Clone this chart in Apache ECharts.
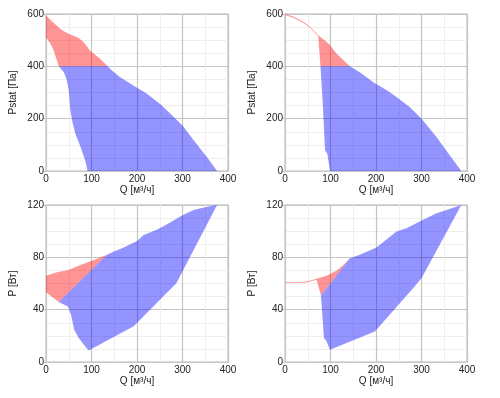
<!DOCTYPE html>
<html>
<head>
<meta charset="utf-8">
<script src="https://cdn.jsdelivr.net/npm/echarts@6/dist/echarts.min.js"></script>
<style>
  html, body { margin: 0; padding: 0; background: #fff; }
  #chart { width: 500px; height: 398px; }
</style>
</head>
<body>
<div id="chart"></div>
<script>
// Q, м³/ч -> Pstat, Па / P, Вт ; red = above 400 Pa, blue = working range
var Q_MAX = 400;
var PSTAT_MAX = 600;
var POWER_MAX = 120;

var pstatRedA = [[0, 593], [31.5, 543], [46, 527], [72, 508], [83, 492], [97, 460], [119, 429], [135.5, 400],
  [28, 400], [17, 460], [9.5, 488], [0, 510]];
var pstatBlueA = [[28, 400], [135.5, 400], [145, 384], [163, 358], [200, 318], [222, 295], [255, 250], [266, 231],
  [300, 174], [325, 117], [354, 53], [376, 0], [91.5, 0], [86, 41], [76, 92], [64.5, 142], [59, 180],
  [53.5, 231], [50, 308], [46, 346], [39, 378]];

var pstatRedB = [[0, 600], [18, 590], [40, 571], [55, 551], [73, 519], [91, 494], [99, 481], [113, 449], [128, 424],
  [142.5, 400], [78, 400], [73, 515], [55, 547], [40, 567], [18, 586], [0, 596]];
var pstatBlueB = [[78, 400], [142.5, 400], [164.5, 377], [194, 339], [223, 310], [245, 283], [274, 245], [300, 200],
  [333, 130], [362, 60], [387.5, 0], [99, 0], [93, 66], [88, 79], [82.6, 271]];

var powerRedA = [[0, 66], [24, 68.6], [50, 70.4], [75.5, 74.2], [105, 78], [134, 81.9], [28, 45.8], [0, 53.4]];
var powerBlueA = [[28, 45.8], [134, 81.9], [149, 84.4], [171, 87.5], [200, 92.5], [214.5, 97.1], [243.5, 101],
  [266, 105.2], [299, 112], [324, 116.2], [354, 118.7], [376, 120], [286.5, 60.2], [192.7, 27.4], [93.8, 8.8],
  [86, 12], [71.8, 18.3], [62, 24.7], [55, 36.1], [48, 42.4]];

var powerRedB = [[0, 61], [25.6, 61], [47.5, 61.5], [69.5, 63.6], [91.4, 66], [113, 69.7], [128, 74.2], [142.6, 79.3],
  [79, 50.8], [69.5, 62.8], [47.5, 60.7], [25.6, 60.3], [0, 60.3]];
var powerBlueB = [[79, 50.8], [142.6, 79.3], [164.5, 81.9], [201, 87.5], [245, 99.7], [267, 102.2], [296, 107.3],
  [333, 113.6], [355, 116.2], [387.5, 120], [300, 64], [281.5, 56.4], [197.4, 23.4], [98.7, 9.4], [91.4, 15.8],
  [85.6, 18.3]];

var X_NAME = 'Q [м³/ч]';
var Y_NAMES = ['Pstat [Па]', 'Pstat [Па]', 'P [Вт]', 'P [Вт]'];

var FONT = '"Liberation Sans", Arial, sans-serif';
var TEXT = '#222';
var RED = 'rgba(255,0,0,0.42)';
var BLUE = 'rgba(0,0,255,0.42)';

function xAxis(gi) {
  return {
    gridIndex: gi, type: 'value', min: 0, max: Q_MAX, interval: 100,
    name: X_NAME, nameLocation: 'middle', nameGap: 10,
    nameTextStyle: { color: TEXT, fontSize: 10, fontFamily: FONT },
    axisLine: { show: true, lineStyle: { color: '#c8c8c8' } },
    axisTick: { show: false },
    axisLabel: { color: TEXT, fontSize: 10, fontFamily: FONT, margin: 3 },
    splitLine: { show: true, lineStyle: { color: '#c4c4c4', width: 1.2 } },
    minorTick: { show: false, splitNumber: 2 },
    minorSplitLine: { show: true, lineStyle: { color: '#eeeeee' } }
  };
}

function yAxis(gi, max, step) {
  return {
    gridIndex: gi, type: 'value', min: 0, max: max, interval: step,
    name: Y_NAMES[gi], nameLocation: 'middle', nameGap: 28, nameRotate: 90,
    nameTextStyle: { color: TEXT, fontSize: 10, fontFamily: FONT },
    axisLine: { show: true, lineStyle: { color: '#c8c8c8' } },
    axisTick: { show: true, length: 3, lineStyle: { color: '#c8c8c8' } },
    axisLabel: { color: TEXT, fontSize: 10, fontFamily: FONT, margin: 2 },
    splitLine: { show: true, lineStyle: { color: '#c4c4c4', width: 1.2 } },
    minorTick: { show: false, splitNumber: 4 },
    minorSplitLine: { show: true, lineStyle: { color: '#eeeeee' } }
  };
}

function polygon(gi, pts, color) {
  return {
    type: 'custom',
    xAxisIndex: gi, yAxisIndex: gi,
    silent: true,
    clip: true,
    encode: { x: 0, y: 1 },
    data: pts,
    renderItem: function (params, api) {
      if (params.dataIndexInside !== 0) { return null; }
      return {
        type: 'polygon',
        shape: { points: pts.map(function (p) { return api.coord(p); }) },
        style: { fill: color, stroke: null }
      };
    }
  };
}

var grids = [
  { left: 46, top: 14, width: 182, height: 157 },
  { left: 285, top: 14, width: 182, height: 157 },
  { left: 46, top: 205, width: 182, height: 157 },
  { left: 285, top: 205, width: 182, height: 157 }
].map(function (g) {
  g.show = true; g.borderColor = '#d0d0d0'; g.borderWidth = 1.5; g.backgroundColor = 'transparent';
  return g;
});

var chart = echarts.init(document.getElementById('chart'));
chart.setOption({
  animation: false,
  textStyle: { fontFamily: FONT },
  grid: grids,
  xAxis: [xAxis(0), xAxis(1), xAxis(2), xAxis(3)],
  yAxis: [yAxis(0, PSTAT_MAX, 200), yAxis(1, PSTAT_MAX, 200), yAxis(2, POWER_MAX, 40), yAxis(3, POWER_MAX, 40)],
  series: [
    polygon(0, pstatRedA, RED), polygon(0, pstatBlueA, BLUE),
    polygon(1, pstatRedB, RED), polygon(1, pstatBlueB, BLUE),
    polygon(2, powerRedA, RED), polygon(2, powerBlueA, BLUE),
    polygon(3, powerRedB, RED), polygon(3, powerBlueB, BLUE)
  ]
});
</script>
</body>
</html>
